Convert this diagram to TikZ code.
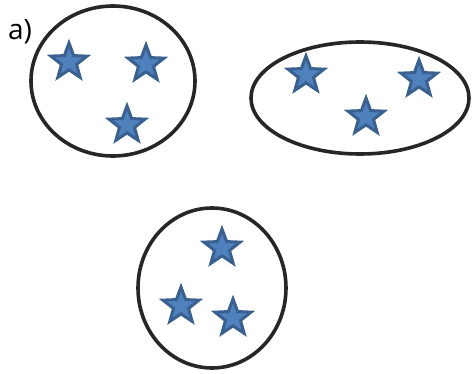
\documentclass[tikz,border=0pt]{standalone}
\usepackage{fontspec}
\setmainfont{Open Sans}
\usetikzlibrary{shapes.geometric}
\definecolor{starfill}{HTML}{4F81BD}
\definecolor{starline}{HTML}{3A6090}
\tikzset{
  cluster/.style={draw=black!85, line width=3.6pt, fill=none},
  starnode/.style={star, star points=5, star point ratio=2.4, minimum size=38pt, inner sep=0pt, draw=starline, line width=3pt, fill=starfill, line join=miter}
}
\begin{document}
\begin{tikzpicture}[x=1pt,y=-1pt]
\useasboundingbox (0,0) rectangle (475,374);
\draw[cluster] (113,81) ellipse [x radius=82, y radius=75];
\draw[cluster] (360,98) ellipse [x radius=109, y radius=56];
\draw[cluster] (212,288) ellipse [x radius=74, y radius=80];
\node[starnode] (s1) at (69,62) {};
\node[starnode] (s2) at (146,64) {};
\node[starnode] (s3) at (127,125) {};
\node[starnode] (s4) at (306,75) {};
\node[starnode] (s5) at (419,79) {};
\node[starnode] (s6) at (366,117) {};
\node[starnode] (s7) at (222,248) {};
\node[starnode] (s8) at (181,306) {};
\node[starnode] (s9) at (233,318) {};
\node[font=\fontsize{28}{30}\selectfont, inner sep=0pt] (lbl) at (20,32) {a)};
\end{tikzpicture}
\end{document}
